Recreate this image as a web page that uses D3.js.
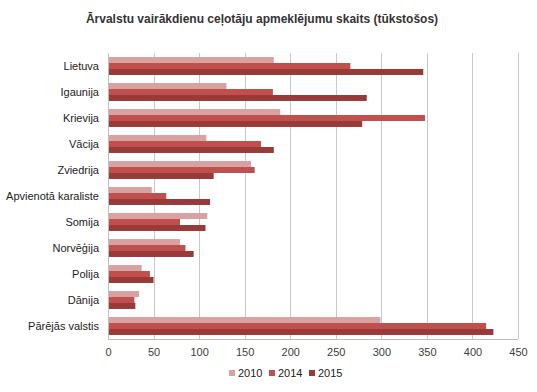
<!DOCTYPE html>
<html>
<head>
<meta charset="utf-8">
<title>Ārvalstu vairākdienu ceļotāju apmeklējumu skaits</title>
<style>
  body { margin: 0; background: #fff; font-family: "Liberation Sans", Arial, sans-serif; }
  .grid line { stroke: #c8c8c8; shape-rendering: crispEdges; }
  .grid path { stroke: none; }
  .axisX path { display: none; }
  .axisX line { display: none; }
  .axisX text { fill: #404040; font-size: 11px; }
  .axisY path { stroke: #bfbfbf; shape-rendering: crispEdges; }
  .axisY line { display: none; }
  .axisY text { fill: #222; font-size: 11px; }
</style>
</head>
<body>
<svg width="537" height="392"></svg>
<script src="https://d3js.org/d3.v7.min.js"></script>
<script>

var countries = ["Lietuva", "Igaunija", "Krievija", "Vācija", "Zviedrija", "Apvienotā karaliste",
                 "Somija", "Norvēģija", "Polija", "Dānija", "Pārējās valstis"];
var years = ["2010", "2014", "2015"];
var v2010 = [182, 130, 189, 108, 157, 48, 109, 79, 37, 34, 299];
var v2014 = [266, 181, 348, 168, 161, 64, 79, 85, 46, 29, 415];
var v2015 = [346, 284, 279, 182, 116, 112, 107, 94, 50, 30, 423];
var ticks = [0, 50, 100, 150, 200, 250, 300, 350, 400, 450];
var colors = ["#d9a2a2", "#c0504d", "#983a38"];

var series = [v2010, v2014, v2015];
var data = countries.map(function(c, i) {
  return { country: c, values: years.map(function(y, k) { return { key: y, value: series[k][i] }; }) };
});

var svg = d3.select("svg"),
    margin = {top: 53, right: 19, bottom: 53, left: 108},
    width = +svg.attr("width") - margin.left - margin.right,
    height = +svg.attr("height") - margin.top - margin.bottom,
    g = svg.append("g").attr("transform", "translate(" + margin.left + "," + margin.top + ")");

var x = d3.scaleLinear().domain([0, 450]).range([0, width]);

var y0 = d3.scaleBand()
  .domain(countries)
  .range([0, height])
  .paddingInner(0.31)
  .paddingOuter(0.155);

var y1 = d3.scaleBand().domain(years).range([0, y0.bandwidth()]);

var z = d3.scaleOrdinal().domain(years).range(colors);

// title
svg.append("text")
  .attr("x", 262)
  .attr("y", 23)
  .attr("text-anchor", "middle")
  .attr("font-size", 12)
  .attr("font-weight", "bold")
  .attr("fill", "#333")
  .text("Ārvalstu vairākdienu ceļotāju apmeklējumu skaits (tūkstošos)");

// vertical gridlines
g.append("g")
  .attr("class", "grid")
  .call(d3.axisBottom(x).tickValues(ticks).tickSize(height).tickFormat(""));

// bars
g.append("g")
  .selectAll("g")
  .data(data)
  .enter().append("g")
  .attr("transform", function(d) { return "translate(0," + (y0.bandwidth() ? y0(d.country) : 0) + ")"; })
  .selectAll("rect")
  .data(function(d) { return d.values; })
  .enter().append("rect")
  .attr("x", 0)
  .attr("y", function(d) { return y1(d.key); })
  .attr("height", y1.bandwidth())
  .attr("width", function(d) { return x(d.value); })
  .attr("fill", function(d) { return z(d.key); });

// x axis labels
g.append("g")
  .attr("class", "axisX")
  .attr("transform", "translate(0," + height + ")")
  .call(d3.axisBottom(x).tickValues(ticks).tickSize(0).tickPadding(9));

// y axis
g.append("g")
  .attr("class", "axisY")
  .call(d3.axisLeft(y0).tickSize(0).tickPadding(9));

// bottom axis line
g.append("line")
  .attr("x1", 0).attr("x2", width)
  .attr("y1", height + 0.5).attr("y2", height + 0.5)
  .attr("stroke", "#bfbfbf");

// legend
var legendX = [229, 269, 309];
var legend = svg.append("g")
  .selectAll("g")
  .data(years)
  .enter().append("g")
  .attr("transform", function(d, i) { return "translate(" + legendX[i] + ",373)"; });

legend.append("rect")
  .attr("x", 0).attr("y", -3)
  .attr("width", 6).attr("height", 6)
  .attr("fill", z);

legend.append("text")
  .attr("x", 9)
  .attr("dy", "0.35em")
  .attr("font-size", 11)
  .attr("fill", "#222")
  .text(function(d) { return d; });

</script>
</body>
</html>
